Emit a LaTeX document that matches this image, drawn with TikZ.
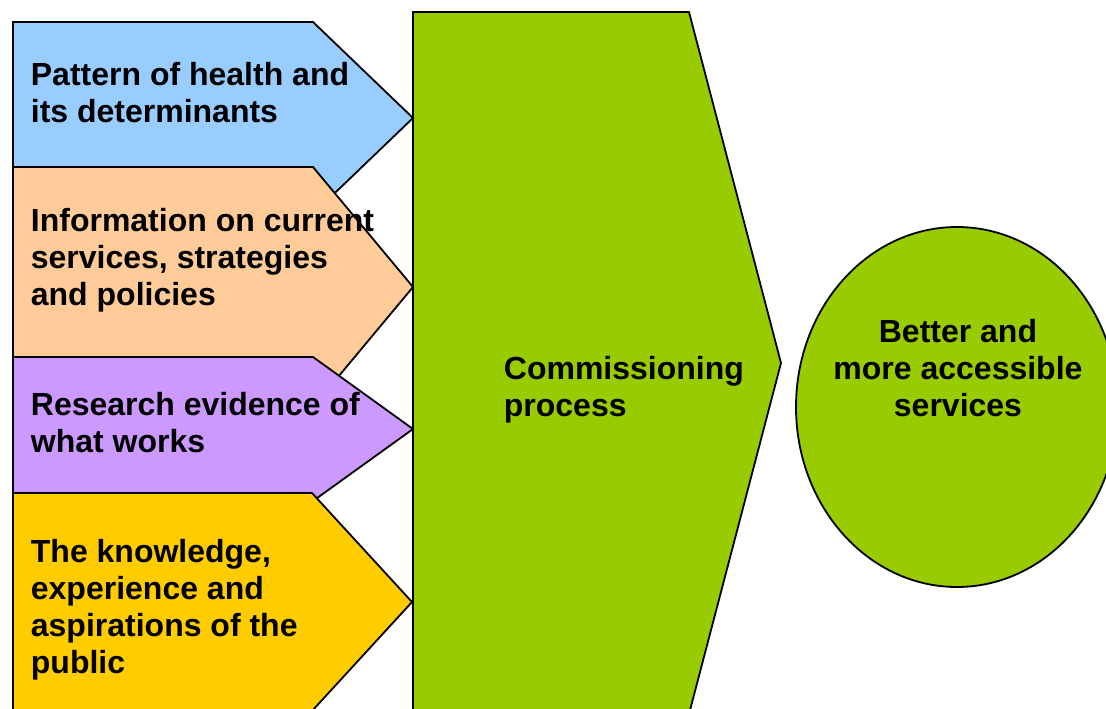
\documentclass[tikz,border=0pt]{standalone}
\usepackage{fontspec}
\setmainfont{Liberation Sans}
\usetikzlibrary{shapes.geometric}
\definecolor{in-health}{HTML}{99CCFF}
\definecolor{in-services}{HTML}{FFCC99}
\definecolor{in-research}{HTML}{CC99FF}
\definecolor{in-public}{HTML}{FFCC00}
\definecolor{out-green}{HTML}{99CC00}

\begin{document}
\begin{tikzpicture}[x=1pt,y=-1pt,line width=1.8pt,line join=miter,
  lbl/.style={font=\fontsize{32}{37}\selectfont\bfseries,inner sep=0pt,align=left,anchor=base west}]
  \useasboundingbox (0,0) rectangle (1106,709);
  \clip (0,0) rectangle (1106,709);
  % commissioning block and the outcome
  \filldraw[fill=out-green] (413,12)--(689,12)--(781,363)--(689,714)--(413,714)--cycle;
  \node[ellipse,draw,fill=out-green,inner sep=0pt,minimum width=322pt,minimum height=360pt] (outcome) at (957,407) {};
  % the four inputs, each one over the one above
  \filldraw[fill=in-health] (13,22)--(313,22)--(413,118)--(313,214)--(13,214)--cycle;
  \filldraw[fill=in-services] (13,167)--(313,167)--(413,287)--(313,407)--(13,407)--cycle;
  \filldraw[fill=in-research] (13,357)--(313,357)--(413,429)--(313,501)--(13,501)--cycle;
  \filldraw[fill=in-public] (13,493)--(312,493)--(412,602)--(312,711)--(13,711)--cycle;
  % labels (base = baseline of the last line)
  \node[lbl] (health) at (30,122) {Pattern of health and\\its determinants};
  \node[lbl] (info) at (30,305) {Information on current\\services, strategies\\and policies};
  \node[lbl] (research) at (30,452) {Research evidence of\\what works};
  \node[lbl] (public) at (30,673) {The knowledge,\\experience and\\aspirations of the\\public};
  \node[lbl] (process) at (503,416) {Commissioning\\process};
  \node[lbl,align=center,anchor=base] (better) at (958,416) {Better and\\more accessible\\services};
\end{tikzpicture}
\end{document}
